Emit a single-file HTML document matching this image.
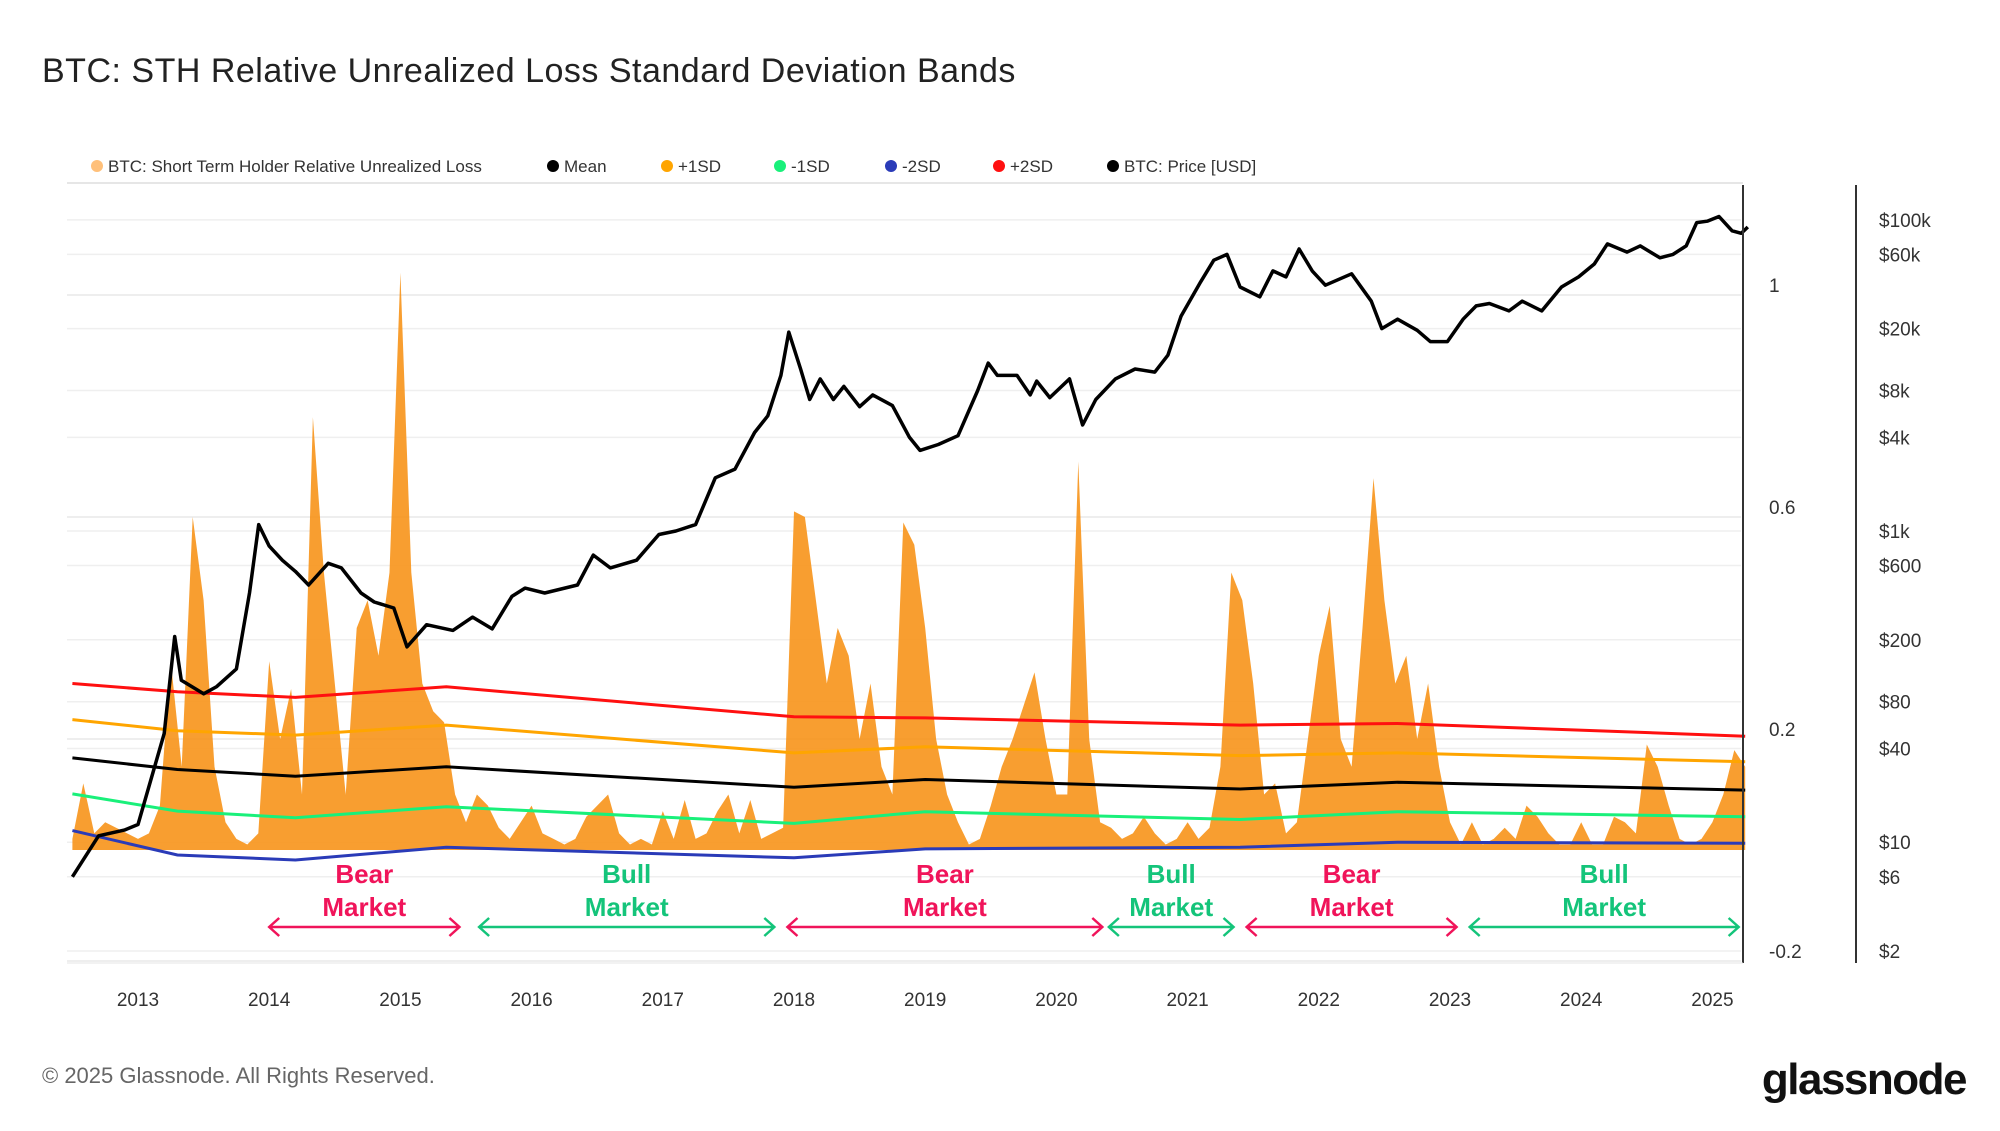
<!DOCTYPE html>
<html><head><meta charset="utf-8"><style>
body{margin:0;background:#fff;}
svg text{font-family:"Liberation Sans",sans-serif;}
</style></head><body>
<svg id="c" width="2000" height="1126" xmlns="http://www.w3.org/2000/svg">
<text x="42" y="82" font-size="34" fill="#222" letter-spacing="0.5">BTC: STH Relative Unrealized Loss Standard Deviation Bands</text>
<g id="legend" font-size="17" fill="#333"></g>
<line x1="67" y1="183" x2="1743" y2="183" stroke="#e6e6e6" stroke-width="2"/>
<g id="grid"></g>
<g id="marks"></g>
<line x1="1743" y1="185" x2="1743" y2="963" stroke="#333" stroke-width="2"/>
<line x1="1856" y1="185" x2="1856" y2="963" stroke="#333" stroke-width="2"/>
<line x1="67" y1="963" x2="1743" y2="963" stroke="#e6e6e6" stroke-width="1"/>
<g id="axes" font-size="19" fill="#333"></g>
<g id="ann" font-weight="bold" font-size="26" text-anchor="middle"></g>
<text x="42" y="1083" font-size="22" fill="#666">© 2025 Glassnode. All Rights Reserved.</text>
<text x="1966" y="1094" font-size="44" font-weight="bold" fill="#111" text-anchor="end" letter-spacing="-1.5">glassnode</text>
</svg>
<script>
const years=[2013,2014,2015,2016,2017,2018,2019,2020,2021,2022,2023,2024,2025];
const valueTicks=[1,0.6,0.2,-0.2];
const valueTickLabels=["1","0.6","0.2","-0.2"];
const priceTicks=[100000,60000,20000,8000,4000,1000,600,200,80,40,10,6,2];
const priceTickLabels=["$100k","$60k","$20k","$8k","$4k","$1k","$600","$200","$80","$40","$10","$6","$2"];
const lossValues=[0.02,0.12,0.03,0.05,0.04,0.03,
0.02,0.03,0.08,0.34,0.15,0.6,0.45,0.15,0.05,0.02,0.01,0.03,
0.34,0.2,0.29,0.1,0.78,0.5,0.3,0.1,0.4,0.45,0.35,0.5,
1.04,0.5,0.3,0.25,0.23,0.1,0.05,0.1,0.08,0.04,0.02,0.05,
0.08,0.03,0.02,0.01,0.02,0.06,0.08,0.1,0.03,0.01,0.02,0.01,
0.07,0.02,0.09,0.02,0.03,0.07,0.1,0.03,0.09,0.02,0.03,0.04,
0.61,0.6,0.45,0.3,0.4,0.35,0.2,0.3,0.15,0.1,0.59,0.55,
0.4,0.2,0.1,0.05,0.01,0.02,0.08,0.15,0.2,0.26,0.32,0.2,
0.1,0.1,0.7,0.2,0.05,0.04,0.02,0.03,0.06,0.03,0.01,0.02,
0.05,0.02,0.04,0.15,0.5,0.45,0.3,0.1,0.12,0.03,0.05,0.2,
0.35,0.44,0.2,0.15,0.4,0.67,0.45,0.3,0.35,0.2,0.3,0.15,
0.05,0.01,0.05,0.01,0.02,0.04,0.02,0.08,0.06,0.03,0.01,0.01,
0.05,0.01,0.01,0.06,0.05,0.03,0.19,0.15,0.08,0.02,0.01,0.02,
0.05,0.1,0.18,0.15];
const lossStart=2012.5;
const priceDates=[2012.5,2012.7,2012.9,2013.0,2013.2,2013.28,2013.33,2013.5,2013.6,2013.75,2013.85,2013.92,2014.0,2014.1,2014.2,2014.3,2014.45,2014.55,2014.7,2014.8,2014.95,2015.05,2015.2,2015.4,2015.55,2015.7,2015.85,2015.95,2016.1,2016.35,2016.47,2016.6,2016.8,2016.97,2017.1,2017.25,2017.4,2017.55,2017.7,2017.8,2017.9,2017.96,2018.05,2018.12,2018.2,2018.3,2018.38,2018.5,2018.6,2018.75,2018.88,2018.96,2019.1,2019.25,2019.4,2019.48,2019.55,2019.7,2019.8,2019.85,2019.95,2020.1,2020.2,2020.3,2020.45,2020.6,2020.75,2020.85,2020.95,2021.1,2021.2,2021.3,2021.4,2021.55,2021.65,2021.75,2021.85,2021.95,2022.05,2022.25,2022.4,2022.48,2022.6,2022.75,2022.85,2022.98,2023.1,2023.2,2023.3,2023.45,2023.55,2023.7,2023.85,2023.98,2024.1,2024.2,2024.35,2024.45,2024.6,2024.7,2024.8,2024.88,2024.96,2025.05,2025.15,2025.22,2025.27];
const priceValues=[6,11,12,13,50,210,110,90,100,130,400,1100,800,650,550,450,620,580,400,350,320,180,250,230,280,235,380,430,400,450,700,580,650,950,1000,1100,2200,2500,4300,5500,10000,19000,11000,7000,9500,7000,8500,6300,7500,6400,4000,3300,3600,4100,8000,12000,10000,10000,7500,9200,7200,9500,4800,7000,9500,11000,10500,13500,24000,40000,55000,60000,37000,32000,47000,43000,65000,47000,38000,45000,30000,20000,23000,19500,16500,16500,23000,28000,29000,26000,30000,26000,37000,43000,52000,70000,62000,68000,57000,60000,68000,96000,98000,105000,85000,82000,90000];
const bandDates=[2012.5,2013.3,2014.2,2015.35,2018.0,2019.0,2021.4,2022.6,2025.25];
const plus2SD=[0.30,0.285,0.275,0.294,0.24,0.238,0.225,0.228,0.205];
const plus1SD=[0.235,0.215,0.207,0.225,0.175,0.186,0.17,0.175,0.159];
const meanBand=[0.166,0.145,0.133,0.15,0.113,0.127,0.11,0.122,0.108];
const minus1SD=[0.101,0.07,0.058,0.078,0.048,0.069,0.055,0.069,0.06];
const minus2SD=[0.035,-0.009,-0.018,0.005,-0.014,0.002,0.005,0.014,0.012];
const marketLabels=["Bear","Bull","Bear","Bull","Bear","Bull"];
const marketStart=[2014.0,2015.6,2017.95,2020.4,2021.45,2023.15];
const marketEnd=[2015.45,2017.85,2020.35,2021.35,2023.05,2025.2];

const NS="http://www.w3.org/2000/svg";
const X=y=>138+(y-2013)*131.2;
const YV=v=>850-v*555;
const YP=p=>951-(Math.log10(p)-Math.log10(2))*155.6;
function mk(t,a,parent){const e=document.createElementNS(NS,t);for(const k in a)e.setAttribute(k,a[k]);parent.appendChild(e);return e;}
const grid=document.getElementById('grid'),marks=document.getElementById('marks'),axes=document.getElementById('axes'),ann=document.getElementById('ann'),legend=document.getElementById('legend');

priceTicks.forEach(p=>{const l=mk('line',{x1:67,x2:1741,y1:YP(p),y2:YP(p),stroke:'#efefef','stroke-width':1.5},grid);

});
valueTicks.forEach(v=>{const l=mk('line',{x1:67,x2:1741,y1:YV(v),y2:YV(v),stroke:'#e8e8e8','stroke-width':1.5},grid);

});

let d='M'+X(lossStart)+','+YV(0);
lossValues.forEach((v,i)=>{d+=' L'+X(lossStart+i/12).toFixed(1)+','+YV(v).toFixed(1);});
d+=' L'+X(lossStart+(lossValues.length-1)/12)+','+YV(0)+' Z';
const area=mk('path',{d:d,fill:'#f7931a','fill-opacity':0.9},marks);



function band(vals,color,name){const p=mk('polyline',{points:bandDates.map((t,i)=>X(t).toFixed(1)+','+YV(vals[i]).toFixed(1)).join(' '),fill:'none',stroke:color,'stroke-width':3},marks);

}
band(minus2SD,'#2a3bb8','minus-2sd-line');
band(minus1SD,'#19f07a','minus-1sd-line');
band(meanBand,'#000','mean-line');
band(plus1SD,'#ffa500','plus-1sd-line');
band(plus2SD,'#ff1010','plus-2sd-line');

const pl=mk('polyline',{points:priceDates.map((t,i)=>X(t).toFixed(1)+','+YP(priceValues[i]).toFixed(1)).join(' '),fill:'none',stroke:'#000','stroke-width':3.5,'stroke-linejoin':'round'},marks);



years.forEach(y=>{const t=mk('text',{x:X(y),y:1006,'text-anchor':'middle'},axes);t.textContent=y;

});
valueTicks.forEach((v,i)=>{const t=mk('text',{x:1769,y:YV(v)-3},axes);t.textContent=valueTickLabels[i];

});
priceTicks.forEach((p,i)=>{const t=mk('text',{x:1879,y:YP(p)+7},axes);t.textContent=priceTickLabels[i];

});

marketLabels.forEach((m,i)=>{const col=m==='Bear'?'#f0145a':'#14c47a';const cx=(X(marketStart[i])+X(marketEnd[i]))/2;
const g=mk('g',{fill:col},ann);


const t1=mk('text',{x:cx,y:883},g);t1.textContent=m;
const t2=mk('text',{x:cx,y:916},g);t2.textContent='Market';
const x1=X(marketStart[i]),x2=X(marketEnd[i]),ya=927;
mk('path',{d:`M${x1},${ya} L${x2},${ya} M${x1+10},${ya-9} L${x1},${ya} L${x1+10},${ya+9} M${x2-10},${ya-9} L${x2},${ya} L${x2-10},${ya+9}`,stroke:col,'stroke-width':2.5,fill:'none'},g);});

const leg=[["BTC: Short Term Holder Relative Unrealized Loss","#ffc07a",90],["Mean","#000",546],["+1SD","#ffa500",660],["-1SD","#19f07a",773],["-2SD","#2a3bb8",884],["+2SD","#ff1010",992],["BTC: Price [USD]","#000",1106]];
leg.forEach(l=>{const g=mk('g',{},legend);


mk('circle',{cx:l[2]+7,cy:166,r:6,fill:l[1]},g);const t=mk('text',{x:l[2]+18,y:172},g);t.textContent=l[0];});
</script>
</body></html>
